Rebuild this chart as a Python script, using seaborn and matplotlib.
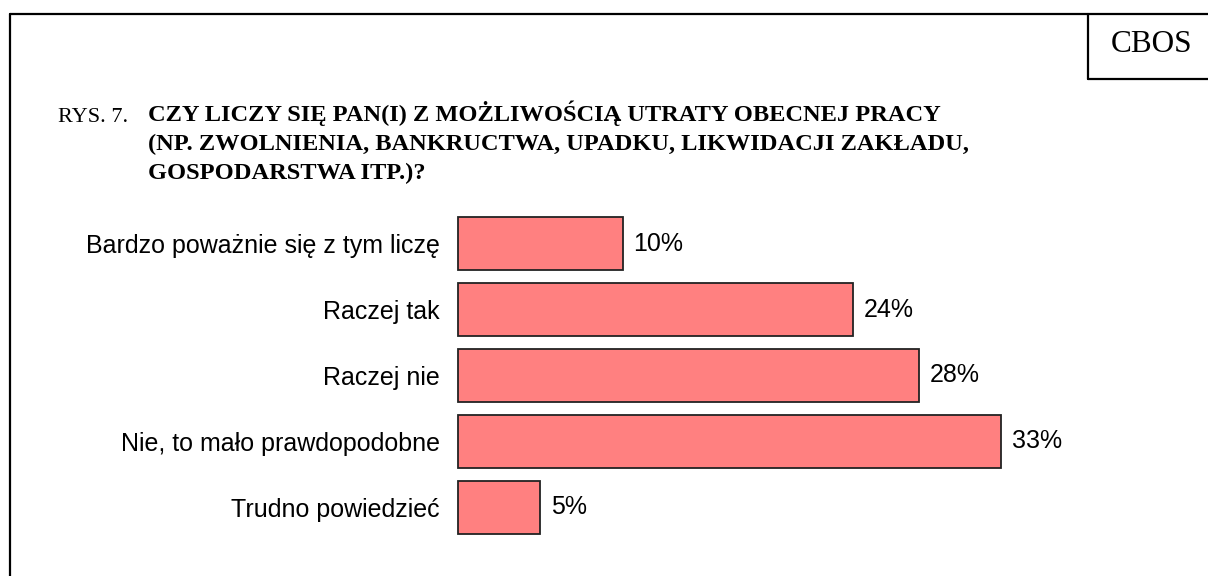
import matplotlib
matplotlib.use("Agg")
import matplotlib.pyplot as plt
import seaborn as sns
import pandas as pd
from matplotlib.lines import Line2D

categories = ["Bardzo poważnie się z tym liczę", "Raczej tak", "Raczej nie",
              "Nie, to mało prawdopodobne", "Trudno powiedzieć"]
values = [10, 24, 28, 33, 5]
value_labels = ["10%", "24%", "28%", "33%", "5%"]
title_lines = ["CZY LICZY SIĘ PAN(I) Z MOŻLIWOŚCIĄ UTRATY OBECNEJ PRACY",
               "(NP. ZWOLNIENIA, BANKRUCTWA, UPADKU, LIKWIDACJI ZAKŁADU,",
               "GOSPODARSTWA ITP.)?"]
fig_label = "RYS. 7."
source = "CBOS"

sns.set_theme(style="white")
plt.rcParams['font.family'] = ['Liberation Sans', 'DejaVu Sans']

W, H = 1208, 576
fig = plt.figure(figsize=(W / 100, H / 100), dpi=100)

def fx(px):
    return px / W

def fy(py):
    return 1 - py / H

ax_left, ax_right = 458, 458 + 16.45 * 40
ax_top, ax_bottom = 210.5, 540.5
ax = fig.add_axes([fx(ax_left), fy(ax_bottom), (ax_right - ax_left) / W, (ax_bottom - ax_top) / H])

df = pd.DataFrame({"cat": categories, "val": values})
sns.barplot(data=df, x="val", y="cat", orient="h", color="#FF8080", saturation=1,
            edgecolor="#222222", linewidth=1.3, width=0.8, ax=ax)
for p in ax.patches:
    p.set_clip_on(False)
ax.set_xlim(0, 40)
ax.set_ylim(4.5, -0.5)
for s in ax.spines.values():
    s.set_visible(False)
ax.set_xticks([])
ax.set_xlabel("")
ax.set_ylabel("")
ax.tick_params(axis="y", length=0, pad=13, labelsize=18, labelcolor="black")
ax.bar_label(ax.containers[0], labels=value_labels, padding=8, fontsize=18, color="black")

# frame lines
lw = 1.6
fig.add_artist(Line2D([fx(10), fx(10)], [fy(13.5), 0], color="black", lw=lw))
fig.add_artist(Line2D([fx(10), 1], [fy(13.5), fy(13.5)], color="black", lw=lw))
fig.add_artist(Line2D([fx(1088), fx(1088)], [fy(13.5), fy(79)], color="black", lw=lw))
fig.add_artist(Line2D([fx(1088), 1], [fy(79), fy(79)], color="black", lw=lw))
fig.text(fx(1152), fy(45), source, ha="center", va="center", fontsize=22.5,
         family=["Liberation Serif"], color="black")

fig.text(fx(58), fy(121.5), fig_label, ha="left", va="baseline", fontsize=16,
         family=["Liberation Serif"], color="black")
for i, line in enumerate(title_lines):
    fig.text(fx(148), fy(121.5 + 28.7 * i), line, ha="left", va="baseline", fontsize=17.6,
             family=["Liberation Serif"], fontweight="bold", color="black")

fig.savefig("out.png", dpi=100)
